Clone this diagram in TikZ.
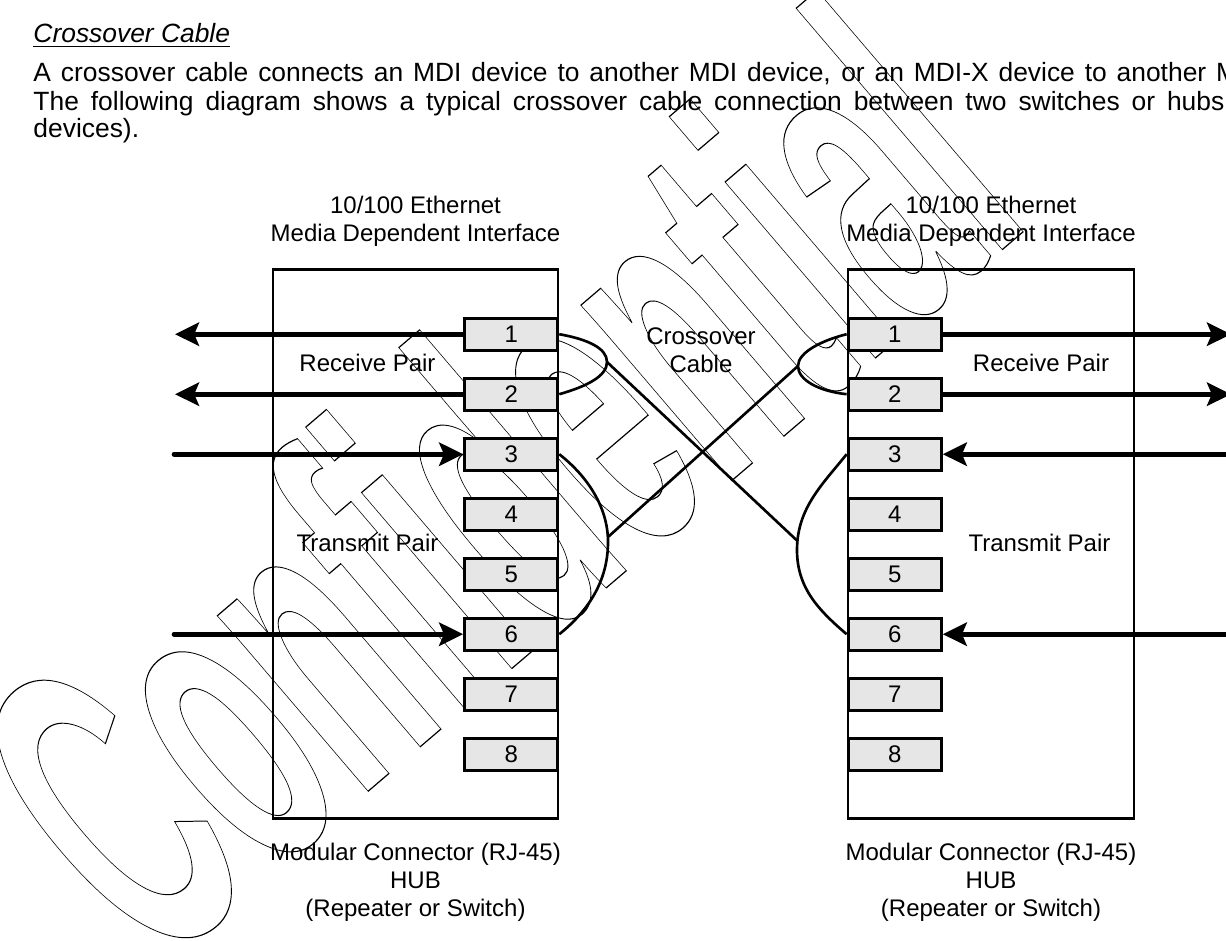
\documentclass[tikz,border=0pt]{standalone}
\usepackage{fontspec}
\setmainfont{Liberation Sans}
\usetikzlibrary{arrows.meta}
\definecolor{pinfill}{RGB}{230,230,230}
\newlength\pxu
\setlength\pxu{0.41667pt}
\begin{document}
\begin{tikzpicture}[x=0.41667pt,y=-0.41667pt,
  bigbox/.style={draw=black, line width=1.12pt, inner sep=0pt, outer sep=0pt, minimum width=285\pxu, minimum height=549\pxu},
  pinbox/.style={draw=black, fill=pinfill, line width=1.3pt, minimum width=93\pxu, minimum height=31.9\pxu, inner sep=0pt, font=\fontsize{10pt}{12pt}\selectfont},
  lbl/.style={inner sep=0pt, anchor=base, font=\fontsize{10pt}{12pt}\selectfont},
  body/.style={inner sep=0pt, anchor=base west, font=\fontsize{11pt}{13pt}\selectfont},
  arr/.style={line width=1.95pt, line cap=round, -{Stealth[length=10pt,width=9.7pt,inset=2pt]}},
  cable/.style={line width=1.1pt},
  wmark/.style={inner sep=0pt, outer sep=0pt, anchor=base west, rotate=40.5, xscale=0.457, font=\fontsize{182.5pt}{200pt}\selectfont\bfseries}
]
\useasboundingbox (0,0) rectangle (1226,940);
\clip (0,0) rectangle (1226,940);

% watermark (outlined text)
\node[wmark] (wm) at (154.6,973.6) {\special{pdf:literal direct 1 Tr 0.5 w}Confidential\special{pdf:literal direct 0 Tr}};

% body text
\node[body] (head) at (33,42.7) {\textit{\underline{Crossover Cable}}};
\node[body] (t1) at (33,81) {\makebox[502pt][s]{A crossover cable connects an MDI device to another MDI device, or an MDI-X device to another M}};
\node[body] (t2) at (33,110) {\makebox[496.25pt][s]{The following diagram shows a typical crossover cable connection between two switches or hubs}};
\node[body] (t3) at (33,137) {devices).};

% boxes
\node[bigbox] (LB) at (415.5,544.15) {};
\node[bigbox, minimum width=286\pxu] (RB) at (991,544.15) {};

% top labels
\node[lbl] (lt1) at (415.5,213) {10/100 Ethernet};
\node[lbl] (lt2) at (415.5,241.7) {Media Dependent Interface};
\node[lbl] (rt1) at (991,213) {10/100 Ethernet};
\node[lbl] (rt2) at (991,241.7) {Media Dependent Interface};

% bottom labels
\node[lbl] (lb1) at (415.5,860) {Modular Connector (RJ-45)};
\node[lbl] (lb2) at (415.5,888) {HUB};
\node[lbl] (lb3) at (415.5,916.5) {(Repeater or Switch)};
\node[lbl] (rb1) at (991,860) {Modular Connector (RJ-45)};
\node[lbl] (rb2) at (991,888) {HUB};
\node[lbl] (rb3) at (991,916.5) {(Repeater or Switch)};

% inner labels
\node[lbl] (lrp) at (367.5,371.7) {Receive Pair};
\node[lbl] (rrp) at (1041,371.7) {Receive Pair};
\node[lbl] (ltp) at (367.5,551) {Transmit Pair};
\node[lbl] (rtp) at (1039.5,551) {Transmit Pair};
\node[lbl] (cc1) at (701,344) {Crossover};
\node[lbl] (cc2) at (701,372.7) {Cable};

% pins
\foreach \i in {1,...,8}{
  \node[pinbox] (L\i) at (511.2,{334.2+60*(\i-1)}) {\i};
  \node[pinbox] (R\i) at (894.7,{334.2+60*(\i-1)}) {\i};
}

% arrows
\coordinate (tL1) at (175,334.2);
\coordinate (tL2) at (175,394.2);
\coordinate (sL3) at (174,454.2);
\coordinate (sL6) at (174,634.2);
\coordinate (tR1) at (1231,334.2);
\coordinate (tR2) at (1231,394.2);
\coordinate (sR3) at (1240,454.2);
\coordinate (sR6) at (1240,634.2);
\draw[arr] (L1.west) -- (tL1);
\draw[arr] (L2.west) -- (tL2);
\draw[arr] (sL3) -- (L3.west);
\draw[arr] (sL6) -- (L6.west);
\draw[arr] (R1.east) -- (tR1);
\draw[arr] (R2.east) -- (tR2);
\draw[arr] (sR3) -- (R3.east);
\draw[arr] (sR6) -- (R6.east);

% cable
\coordinate (cLR) at (607,362);
\coordinate (cRT) at (797,550);
\coordinate (cRTx) at (797.5,541);
\coordinate (cLT) at (608,542);
\coordinate (cLTx) at (608,537);
\coordinate (cRR) at (798,366);
\draw[cable] (L1.east) .. controls +(28,5) and +(0,-14) .. (cLR) .. controls +(0,14) and +(28,-8) .. (L2.east);
\draw[cable] (cLR) -- (cRTx);
\draw[cable] (R3.west) .. controls +(-24,30) and +(0,-42) .. (cRT) .. controls +(0,38) and +(-28,-24) .. (R6.west);
\draw[cable] (L3.east) .. controls +(28,22) and +(0,-35) .. (cLT) .. controls +(0,38) and +(30,-24) .. (L6.east);
\draw[cable] (cLTx) -- (cRR);
\draw[cable] (R1.west) .. controls +(-24,6) and +(0,-14) .. (cRR) .. controls +(0,14) and +(-28,-3) .. (R2.west);
\end{tikzpicture}
\end{document}
